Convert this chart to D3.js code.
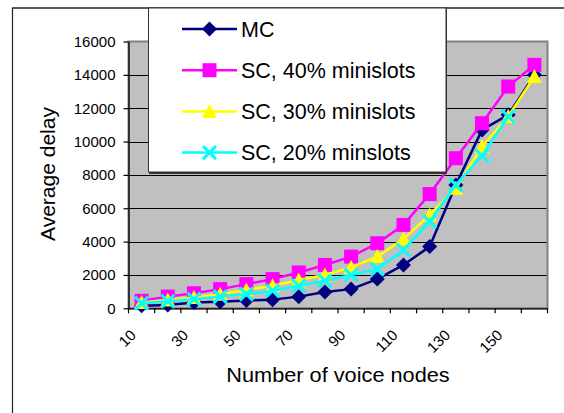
<!DOCTYPE html>
<html>
<head>
<meta charset="utf-8">
<script src="https://cdn.jsdelivr.net/npm/d3@7"></script>
<style>
  html, body { margin: 0; padding: 0; background: #fff; }
  svg { display: block; font-family: "Liberation Sans", Arial, sans-serif; }
</style>
</head>
<body>
<svg id="chart" width="564" height="413"></svg>
<script>
// Number of voice nodes on the category axis
const categories = [10, 20, 30, 40, 50, 60, 70, 80, 90, 100, 110, 120, 130, 140, 150, 160];
const xTickLabels = [10, 30, 50, 70, 90, 110, 130, 150];
const yTicks = [0, 2000, 4000, 6000, 8000, 10000, 12000, 14000, 16000];

// Average delay per scheme
const mcDelay   = [150, 200, 350, 400, 470, 520, 700, 980, 1150, 1750, 2600, 3700, 7400, 10700, 11600, 14000];
const sc40Delay = [450, 700, 900, 1150, 1450, 1750, 2150, 2600, 3100, 3900, 5000, 6850, 9000, 11100, 13300, 14600];
const sc30Delay = [350, 500, 650, 850, 1100, 1350, 1700, 2000, 2450, 3100, 4150, 5600, 7200, 9700, 11500, 13900];
const sc20Delay = [300, 420, 550, 700, 850, 1050, 1350, 1650, 2000, 2350, 3500, 5200, 7400, 9150, 11500];

const seriesNames = ["MC", "SC, 40% minislots", "SC, 30% minislots", "SC, 20% minslots"];
const seriesColors = ["#000080", "#FF00FF", "#FFFF00", "#00FFFF"];
const seriesShapes = ["diamond", "square", "triangle", "cross"];
const seriesValues = [mcDelay, sc40Delay, sc30Delay, sc20Delay];

const svg = d3.select("#chart");

// Outer chart frame (continues past the right and bottom edges)
svg.append("rect").attr("x", 0).attr("y", 0).attr("width", 564).attr("height", 413).attr("fill", "#fff");
svg.append("line").attr("x1", 12.5).attr("x2", 12.5).attr("y1", 8).attr("y2", 413)
  .attr("stroke", "#222").attr("stroke-width", 1.2);
svg.append("line").attr("x1", 12).attr("x2", 564).attr("y1", 8).attr("y2", 8)
  .attr("stroke", "#222").attr("stroke-width", 1.4);

const plot = { left: 128.5, right: 547.5, top: 41.5, bottom: 308.3 };

const x = d3.scaleBand().domain(categories).range([plot.left, plot.right]).paddingInner(0).paddingOuter(0);
const y = d3.scaleLinear().domain([0, 16000]).range([plot.bottom, plot.top]);
const cx = c => x(c) + x.bandwidth() / 2;

// Plot area
svg.append("rect")
  .attr("x", plot.left).attr("y", plot.top)
  .attr("width", plot.right - plot.left).attr("height", plot.bottom - plot.top)
  .attr("fill", "#C0C0C0").attr("stroke", "#808080").attr("stroke-width", 2);

// Horizontal gridlines
svg.append("g").selectAll("line")
  .data(yTicks.filter(v => v > 0 && v < 16000))
  .join("line")
  .attr("x1", plot.left).attr("x2", plot.right - 1)
  .attr("y1", d => Math.round(y(d)) + 0.5).attr("y2", d => Math.round(y(d)) + 0.5)
  .attr("stroke", "#000").attr("stroke-width", 1);

// Y axis
const yAxis = svg.append("g")
  .attr("transform", `translate(${plot.left},0)`)
  .call(d3.axisLeft(y).tickValues(yTicks).tickFormat(d3.format("d"))
    .tickSize(5).tickPadding(8).tickSizeOuter(0));
yAxis.select(".domain").attr("stroke", "#000").attr("stroke-width", 1.3);
yAxis.selectAll(".tick line").attr("stroke", "#000").attr("stroke-width", 1.2);
yAxis.selectAll("text").attr("font-size", 15).attr("fill", "#000")
  .attr("font-family", "'Liberation Sans', Arial, sans-serif");

// X axis line and category boundary ticks
const xAxis = svg.append("g")
  .attr("transform", `translate(0,${plot.bottom})`)
  .call(d3.axisBottom(x).tickValues(xTickLabels).tickSize(0).tickPadding(0).tickSizeOuter(0));
xAxis.select(".domain").attr("stroke", "#000").attr("stroke-width", 1.3);
xAxis.selectAll(".tick text")
  .attr("y", 0).attr("dy", "0.35em")
  .attr("transform", "translate(-8.5,24) rotate(-45)")
  .attr("text-anchor", "end")
  .attr("font-size", 15).attr("fill", "#000")
  .attr("font-family", "'Liberation Sans', Arial, sans-serif");

const boundaries = categories.map(c => x(c)).concat([x(categories[categories.length - 1]) + x.bandwidth()]);
svg.append("g").selectAll("line")
  .data(boundaries)
  .join("line")
  .attr("x1", d => d).attr("x2", d => d)
  .attr("y1", plot.bottom).attr("y2", plot.bottom + 5)
  .attr("stroke", "#000").attr("stroke-width", 1.2);

// Axis titles
svg.append("text")
  .attr("transform", "translate(55,174) rotate(-90)")
  .attr("text-anchor", "middle")
  .attr("font-size", 21).attr("fill", "#000")
  .text("Average delay");

svg.append("text")
  .attr("transform", "translate(338,381.5) scale(1.035,1)")
  .attr("text-anchor", "middle")
  .attr("font-size", 21).attr("fill", "#000")
  .text("Number of voice nodes");

// Marker drawing
function drawMarker(g, shape, color) {
  if (shape === "diamond") {
    g.append("path").attr("d", "M0,-7.5L7.5,0L0,7.5L-7.5,0Z").attr("fill", color);
  } else if (shape === "square") {
    g.append("rect").attr("x", -7).attr("y", -7).attr("width", 14).attr("height", 14).attr("fill", color);
  } else if (shape === "triangle") {
    g.append("path").attr("d", "M0,-7.5L7.5,6.5L-7.5,6.5Z").attr("fill", color);
  } else {
    g.append("path").attr("d", "M-6.5,-6.5L6.5,6.5M6.5,-6.5L-6.5,6.5")
      .attr("stroke", color).attr("stroke-width", 3).attr("fill", "none");
  }
}

const line = d3.line().x(d => cx(d.c)).y(d => y(d.v));

seriesValues.forEach((vals, i) => {
  const pts = vals.map((v, k) => ({ c: categories[k], v }));
  const g = svg.append("g");
  g.append("path")
    .datum(pts)
    .attr("d", line)
    .attr("fill", "none")
    .attr("stroke", seriesColors[i])
    .attr("stroke-width", 2.5)
    .attr("stroke-linejoin", "round");
  g.selectAll("g.m")
    .data(pts)
    .join("g")
    .attr("class", "m")
    .attr("transform", d => `translate(${cx(d.c)},${y(d.v)})`)
    .each(function () { drawMarker(d3.select(this), seriesShapes[i], seriesColors[i]); });
});

// Legend
const legend = svg.append("g");
legend.append("rect")
  .attr("x", 149).attr("y", 9).attr("width", 298).attr("height", 165)
  .attr("fill", "#333");
legend.append("rect")
  .attr("x", 148.5).attr("y", 8).attr("width", 297.5).attr("height", 164)
  .attr("fill", "#fff").attr("stroke", "#333").attr("stroke-width", 1);

seriesNames.forEach((name, i) => {
  const ly = 29 + i * 41.2;
  const item = legend.append("g").attr("transform", `translate(0,${ly})`);
  item.append("line")
    .attr("x1", 182).attr("x2", 237).attr("y1", 0).attr("y2", 0)
    .attr("stroke", seriesColors[i]).attr("stroke-width", 2.5);
  drawMarker(item.append("g").attr("transform", "translate(209.5,0)"), seriesShapes[i], seriesColors[i]);
  item.append("text")
    .attr("x", 241).attr("y", 0)
    .attr("dy", "0.36em")
    .attr("font-size", 21.5).attr("fill", "#000")
    .text(name);
});
</script>
</body>
</html>
